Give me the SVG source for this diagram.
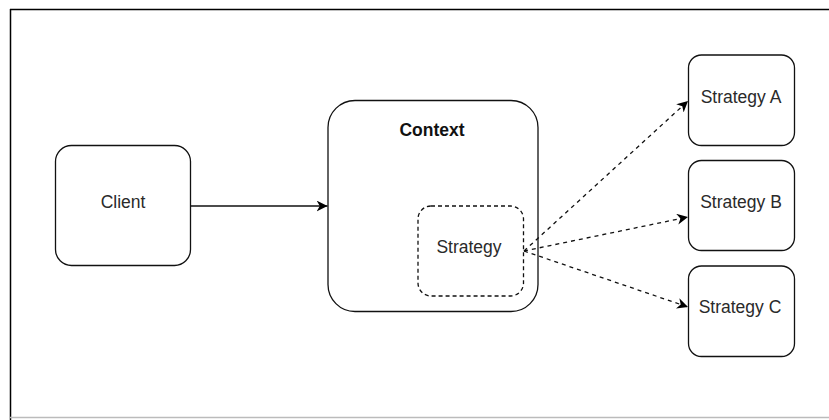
<svg xmlns="http://www.w3.org/2000/svg" width="829" height="420" viewBox="0 0 829 420">
<style>
.box{fill:#fff;stroke:#111;stroke-width:1.3}
.dbox{fill:none;stroke:#111;stroke-width:1.3;stroke-dasharray:4 3}
.t{font-family:"Liberation Sans",Arial,sans-serif;font-size:17.5px;fill:#2a2a2a;text-anchor:middle}
.b{font-weight:bold;fill:#111}
.edge{fill:none;stroke:#111;stroke-width:1.3}
.dash{stroke-dasharray:4 4}
</style>
<defs>
<marker id="arr" viewBox="0 0 10 10" refX="10" refY="5" markerWidth="11" markerHeight="11" markerUnits="userSpaceOnUse" orient="auto">
<path d="M0,0 L10,5 L0,10 L3,5 z" fill="#000"/>
</marker>
</defs>
<rect width="829" height="420" fill="#fff"/>
<g id="frame">
<line x1="10" y1="9.5" x2="829" y2="9.5" stroke="#000" stroke-width="1.5"/>
<line x1="10.5" y1="9" x2="10.5" y2="420" stroke="#000" stroke-width="1.5"/>
<line x1="10" y1="417.5" x2="829" y2="417.5" stroke="#bbb" stroke-width="1.5"/>
</g>
<g id="client">
<rect class="box" x="55.5" y="145.5" width="135" height="120" rx="16"/>
<text class="t" x="123" y="208">Client</text>
</g>
<g id="context">
<rect class="box" x="328" y="100.5" width="210" height="211" rx="27"/>
<text class="t b" x="432" y="136">Context</text>
</g>
<g id="strategy">
<rect class="dbox" x="418" y="206" width="105.5" height="90" rx="13"/>
<text class="t" x="469" y="253">Strategy</text>
</g>
<g id="strategyA">
<rect class="box" x="688.5" y="55" width="106" height="90.5" rx="13"/>
<text class="t" x="741" y="103">Strategy A</text>
</g>
<g id="strategyB">
<rect class="box" x="688.5" y="160.5" width="106" height="90" rx="13"/>
<text class="t" x="741" y="208">Strategy B</text>
</g>
<g id="strategyC">
<rect class="box" x="688.5" y="266" width="106" height="90.5" rx="13"/>
<text class="t" x="740" y="313">Strategy C</text>
</g>
<g id="connectors">
<line class="edge" x1="191" y1="206" x2="327.5" y2="206" marker-end="url(#arr)"/>
<line class="edge dash" x1="524" y1="251" x2="688" y2="101" marker-end="url(#arr)"/>
<line class="edge dash" x1="524" y1="251" x2="688" y2="217" marker-end="url(#arr)"/>
<line class="edge dash" x1="524" y1="251" x2="688" y2="307" marker-end="url(#arr)"/>
</g>
</svg>
